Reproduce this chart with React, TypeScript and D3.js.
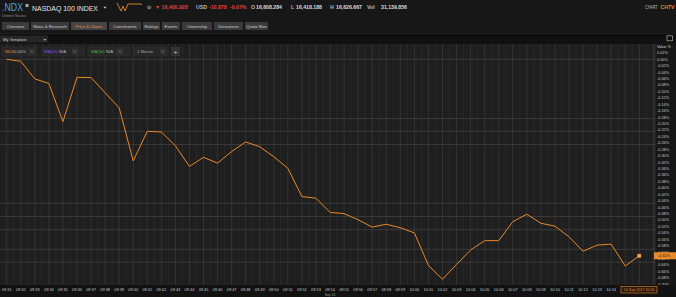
import React from "react";
import * as d3 from "d3";

// ---- data ----
const values: number[] = [
  0.0, -0.006, -0.061, -0.075, -0.194, -0.056, -0.057, -0.104, -0.151, -0.316,
  -0.224, -0.226, -0.269, -0.333, -0.305, -0.323, -0.287, -0.257, -0.272, -0.303,
  -0.339, -0.427, -0.432, -0.476, -0.48, -0.499, -0.522, -0.513, -0.524, -0.54,
  -0.641, -0.684, -0.638, -0.593, -0.564, -0.564, -0.505, -0.482, -0.51, -0.519,
  -0.552, -0.597, -0.578, -0.575, -0.643, -0.611,
];
const timeLabels: string[] = [
  "09:31", "09:32", "09:33", "09:34", "09:35", "09:36", "09:37", "09:38", "09:39", "09:40",
  "09:41", "09:42", "09:43", "09:44", "09:45", "09:46", "09:47", "09:48", "09:49", "09:50",
  "09:51", "09:52", "09:53", "09:54", "09:55", "09:56", "09:57", "09:58", "09:59", "10:00",
  "10:01", "10:02", "10:03", "10:04", "10:05", "10:06", "10:07", "10:08", "10:09", "10:10",
  "10:11", "10:12", "10:13", "10:14",
];
const yTicks: number[] = d3.range(0, 37).map((k) => +(0.02 - 0.02 * k).toFixed(2));
const gridValues: number[] = [0, -0.184, -0.224, -0.265, -0.448, -0.489, -0.53, -0.591, -0.631];
const tabs: string[] = [
  "Overview", "News & Research", "Price & Charts", "Constituents", "Ratings",
  "Events", "Ownership", "Derivatives", "Quote Mon",
];
const tabX: number[][] = [
  [2, 29], [31, 69], [71, 107], [109, 141], [143, 160], [162, 180], [182, 212], [214, 243], [245, 268],
];
const quote = {
  last: "16,400.928", cur: "USD", chg: "-10.878", pct: "-0.07%",
  open: "16,608.284", low: "16,418.188", high: "16,626.667", vol: "31,139,856",
};
const currentLabel = "-0.61%";
const cursorDate = "14 Sep 2017 10:16";
const dateMark = "Sep 14";

const FONT = "'Liberation Sans', Arial, sans-serif";
const ORANGE = "#e8892b";

export default function App() {
  const W = 676, H = 297;
  const plotL = 0, plotR = 655, plotT = 44, plotB = 285;
  const x = d3.scaleLinear().domain([0, values.length - 1]).range([6.7, 639.3]);
  const y = d3.scaleLinear().domain([0, -0.7]).range([59.3, 59.3 + 35 * 6.43]);
  const line = d3.line<number>().x((_, i) => x(i)).y((d) => y(d));
  const last = values.length - 1;
  const fmt = (v: number) => (Math.abs(v) < 1e-9 ? "0.00" : v.toFixed(2)) + "%";
  const halfSteps = d3.range(0, values.length * 2 + 2).map((k) => x(k / 2));

  return (
    <svg width={W} height={H} style={{ position: "absolute", left: 0, top: 0, fontFamily: FONT }}>
      <rect width={W} height={H} fill="#171717" />
      {/* header */}
      <text x={2} y={11} fontSize={10} fill="#4aa3e0" textLength={21} lengthAdjust="spacingAndGlyphs">.NDX</text>
      <rect x={25.5} y={4} width={3} height={3} fill="#aaa" />
      <text x={32} y={11} fontSize={7.6} fill="#e6e6e6" textLength={66} lengthAdjust="spacingAndGlyphs">NASDAQ 100 INDEX</text>
      <path d="M103.5,6.8 L106.5,6.8 L105,8.8 Z" fill="#ccc" />
      <path d="M117,3 L121,11 L123,6 L125,11 L128,4 L141,4 L142,5" fill="none" stroke={ORANGE} strokeWidth={0.9} />
      <g fontSize={5.2} fontWeight="bold">
        <text x={147} y={8.6} fill="#bbb">⊙</text>
        <text x={155} y={8.6} fill="#e04040">▼ {quote.last}</text>
        <text x={196} y={8.6} fill="#bbb">{quote.cur}</text>
        <text x={209} y={8.6} fill="#e04040">{quote.chg}</text>
        <text x={230} y={8.6} fill="#e04040">{quote.pct}</text>
        <text x={251} y={8.6} fill="#bbb">O</text>
        <text x={256} y={8.6} fill="#ddd">{quote.open}</text>
        <text x={291} y={8.6} fill="#bbb">L</text>
        <text x={296} y={8.6} fill="#ddd">{quote.low}</text>
        <text x={330} y={8.6} fill="#bbb">H</text>
        <text x={336} y={8.6} fill="#ddd">{quote.high}</text>
        <text x={367} y={8.6} fill="#bbb">Vol</text>
        <text x={381} y={8.6} fill="#ddd">{quote.vol}</text>
      </g>
      <text x={2} y={17} fontSize={4} fill="#888">United States</text>
      <text x={645} y={8.6} fontSize={4.6} fill="#bbb" textLength={12.5} lengthAdjust="spacingAndGlyphs">CHART</text>
      <text x={660.5} y={8.6} fontSize={4.6} fontWeight="bold" fill={ORANGE} textLength={14} lengthAdjust="spacingAndGlyphs">CHTV</text>
      {/* tabs */}
      {tabs.map((t, i) => (
        <g key={t}>
          <rect x={tabX[i][0]} y={22} width={tabX[i][1] - tabX[i][0]} height={8} fill={i === 2 ? "#454545" : "#3a3a3a"} />
          <text x={(tabX[i][0] + tabX[i][1]) / 2} y={27.6} fontSize={4.2} textAnchor="middle" fill={i === 2 ? "#f0904a" : "#cfcfcf"}>{t}</text>
        </g>
      ))}
      {/* template bar */}
      <rect x={0} y={33.5} width={W} height={10} fill="#101010" />
      <line x1={0} x2={W} y1={33.5} y2={33.5} stroke="#2a2a2a" strokeWidth={0.6} />
      <rect x={0} y={35.5} width={48} height={7} fill="#262626" />
      <text x={3} y={40.5} fontSize={4.2} fill="#ccc">My Template</text>
      <text x={43} y={40.5} fontSize={3.5} fill="#ccc">▼</text>
      <rect x={667} y={35.8} width={5.5} height={5} fill="none" stroke="#aaa" strokeWidth={0.7} />
      {/* plot */}
      <rect x={plotL} y={plotT} width={plotR - plotL} height={plotB - plotT} fill="#1f1f1f" />
      {halfSteps.filter((hx) => hx < plotR).map((hx, k) => (
        <line key={"v" + k} x1={hx} x2={hx} y1={plotT} y2={plotB} stroke={k % 2 === 0 ? "#383838" : "#2b2b2b"} strokeWidth={0.8} />
      ))}
      {gridValues.map((v, k) => (
        <line key={"h" + k} x1={plotL} x2={plotR} y1={y(v)} y2={y(v)} stroke="#404040" strokeWidth={0.8} />
      ))}
      {/* legend */}
      <g fontSize={4.2}>
        <rect x={2} y={47} width={35} height={9} fill="#272727" stroke="#333" strokeWidth={0.5} />
        <text x={4} y={53} fill={ORANGE}>.NDX</text>
        <text x={14} y={53} fill="#bbb">0.00%</text>
        <rect x={29} y={48.5} width={6} height={6} fill="#333" />
        <text x={32} y={52.8} textAnchor="middle" fill="#ddd">−</text>
        <rect x={42} y={47} width={42} height={9} fill="#272727" stroke="#333" strokeWidth={0.5} />
        <text x={44} y={53} fill="#9b45e0">MA(20)</text>
        <text x={59} y={53} fill="#bbb">N/A</text>
        <rect x={72} y={48.5} width={6} height={6} fill="#333" />
        <text x={75} y={52.8} textAnchor="middle" fill="#ddd">−</text>
        <rect x={88} y={47} width={42} height={9} fill="#272727" stroke="#333" strokeWidth={0.5} />
        <text x={91} y={53} fill="#43b843">MA(50)</text>
        <text x={106} y={53} fill="#bbb">N/A</text>
        <rect x={117} y={48.5} width={6} height={6} fill="#333" />
        <text x={120} y={52.8} textAnchor="middle" fill="#ddd">−</text>
        <rect x={134} y={47} width={34} height={9} fill="#272727" stroke="#333" strokeWidth={0.5} />
        <text x={137} y={53} fill="#aaa">1 Minute</text>
        <rect x={160} y={48.5} width={6} height={6} fill="#333" />
        <text x={163} y={52.8} textAnchor="middle" fill="#ddd">−</text>
        <rect x={171} y={47} width={9} height={9} fill="#333" />
        <text x={175.5} y={53.5} fontSize={6} textAnchor="middle" fill="#ddd">+</text>
      </g>
      {/* series */}
      <path d={line(values) || ""} fill="none" stroke={ORANGE} strokeWidth={1} />
      <rect x={x(last) - 1.6} y={y(values[last]) - 1.6} width={3.2} height={3.2} fill="#f5b060" stroke={ORANGE} strokeWidth={0.5} />
      {/* right axis */}
      <rect x={plotR} y={plotT} width={W - plotR} height={plotB - plotT} fill="#171717" />
      <line x1={plotR} x2={plotR} y1={plotT} y2={plotB} stroke="#444" strokeWidth={0.6} />
      <text x={657} y={47.5} fontSize={3.8} fill="#ddd">Value %</text>
      {yTicks.map((v) => (
        <text key={"yt" + v} x={657} y={y(v) + 1.4} fontSize={3.8} fill="#c8c8c8">{fmt(v)}</text>
      ))}
      <rect x={654} y={y(values[last]) - 3.5} width={22} height={7} fill={ORANGE} />
      <text x={658} y={y(values[last]) + 1.4} fontSize={3.8} fill="#1a1a1a">{currentLabel}</text>
      {/* x axis */}
      <rect x={0} y={plotB} width={W} height={H - plotB} fill="#121212" />
      {timeLabels.map((t, i) => (
        <text key={t} x={x(i)} y={291} fontSize={3.9} textAnchor="middle" fill="#c8c8c8">{t}</text>
      ))}
      <text x={x(23)} y={295.5} fontSize={3.4} textAnchor="middle" fill="#999">{dateMark}</text>
      <rect x={621} y={286.5} width={36} height={6.5} fill="#2a1a0c" stroke={ORANGE} strokeWidth={0.6} />
      <text x={639} y={291.2} fontSize={3.6} textAnchor="middle" fill={ORANGE}>{cursorDate}</text>
    </svg>
  );
}
